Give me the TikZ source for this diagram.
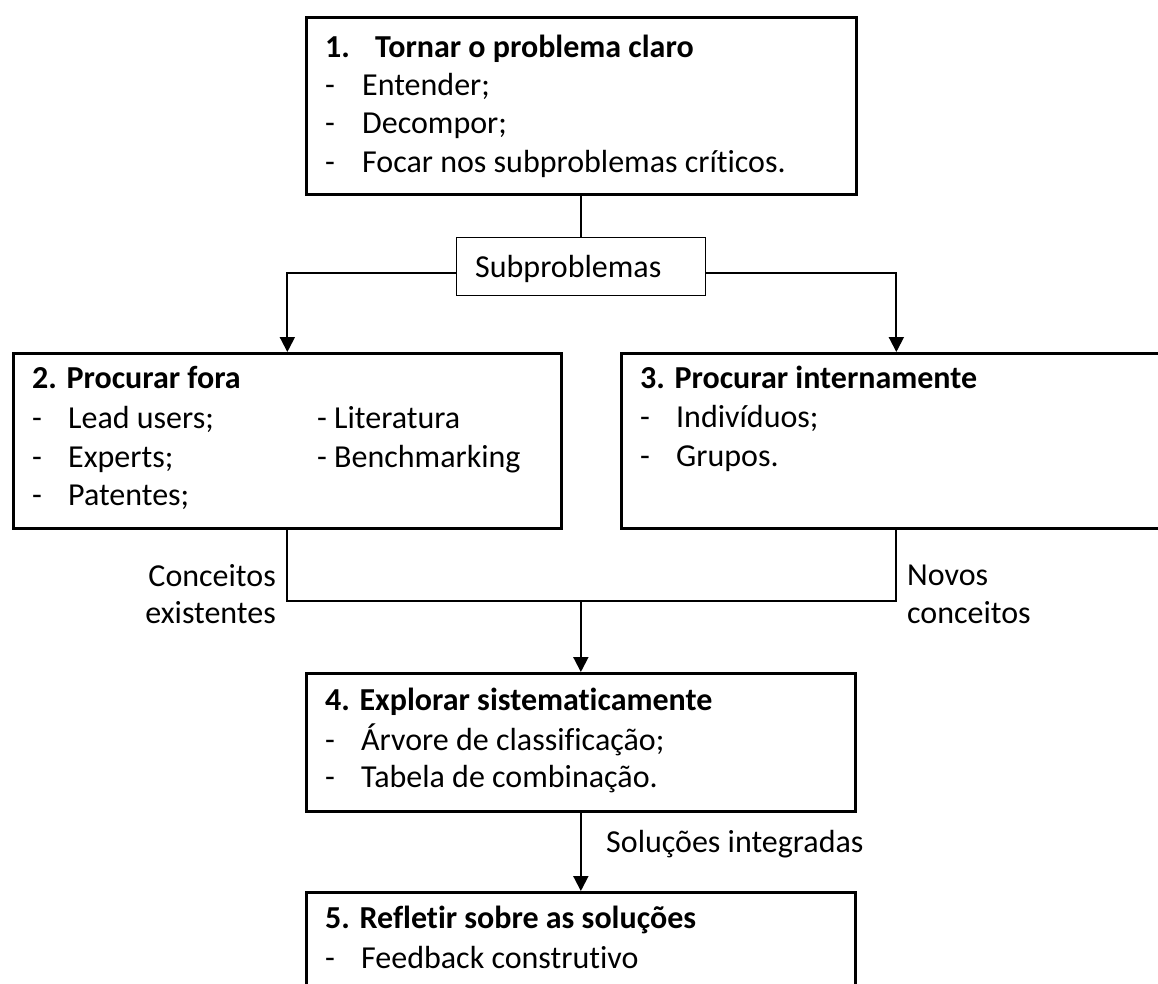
\documentclass[tikz,border=0pt]{standalone}
\usepackage{fontspec}
\setmainfont{Carlito}[Ligatures=NoCommon]
\usetikzlibrary{arrows.meta,calc}
\newcommand\itm{\makebox[37pt][l]{-}}
\begin{document}
\begin{tikzpicture}[x=1pt,y=-1pt,
  box/.style={draw, line width=2.7pt, rectangle, inner sep=0pt, anchor=north west},
  sbox/.style={draw, line width=1.3pt, rectangle, inner sep=0pt, anchor=north west},
  conn/.style={line width=2pt},
  arr/.style={line width=2pt, -{Triangle[length=15pt,width=15pt]}},
  txt/.style={anchor=base west, inner sep=0pt, font=\fontsize{32}{38}\selectfont},
  ttl/.style={anchor=base west, inner sep=0pt, font=\fontsize{32}{38}\selectfont\bfseries},
]
\useasboundingbox (0,0) rectangle (1158,983);
\clip (0,0) rectangle (1158,983);

% boxes
\node[box, minimum width=550, minimum height=177] (b1) at (305,16) {};
\node[sbox, minimum width=249, minimum height=58] (sub) at (456,237) {};
\node[box, minimum width=548, minimum height=175] (b2) at (12,352) {};
\node[box, minimum width=550, minimum height=175] (b3) at (620,352) {};
\node[box, minimum width=549, minimum height=138] (b4) at (305,672) {};
\node[box, minimum width=549, minimum height=140] (b5) at (305,891) {};

% texts box 1
\node[ttl] (t1) at (325,57) {\makebox[50pt][l]{1.}Tornar o problema claro};
\node[txt] (t1a) at (325,95) {\itm Entender;};
\node[txt] (t1b) at (325,133) {\itm Decompor;};
\node[txt] (t1c) at (325,172) {\itm Focar nos subproblemas críticos.};

\node[txt] (ts) at (475,277) {Subproblemas};

% box 2
\node[ttl] (t2) at (32,388) {2. Procurar fora};
\node[txt] (t2a) at (32,428) {\makebox[36pt][l]{-}Lead users;};
\node[txt] (t2b) at (32,467) {\makebox[36pt][l]{-}Experts;};
\node[txt] (t2c) at (32,505) {\makebox[36pt][l]{-}Patentes;};
\node[txt] (t2d) at (317,428) {- Literatura};
\node[txt] (t2e) at (317,467) {- Benchmarking};

% box 3
\node[ttl] (t3) at (640,388) {3. Procurar internamente};
\node[txt] (t3a) at (640,427) {\makebox[36pt][l]{-}Indivíduos;};
\node[txt] (t3b) at (640,466) {\makebox[36pt][l]{-}Grupos.};

% box 4
\node[ttl] (t4) at (325,710) {4. Explorar sistematicamente};
\node[txt] (t4a) at (325,750) {\makebox[36pt][l]{-}Árvore de classificação;};
\node[txt] (t4b) at (325,787) {\makebox[36pt][l]{-}Tabela de combinação.};

% box 5
\node[ttl] (t5) at (325,928) {5. Refletir sobre as soluções};
\node[txt] (t5a) at (325,968) {\makebox[36pt][l]{-}Feedback construtivo};

% labels
\node[txt, anchor=base east] (lc1) at (276,586) {Conceitos};
\node[txt, anchor=base east] (lc2) at (276,623) {existentes};
\node[txt] (ln1) at (907,585) {Novos};
\node[txt] (ln2) at (907,623) {conceitos};
\node[txt] (ls) at (606,852) {Soluções integradas};

% connectors
\draw[conn] (sub.north) -- (sub.north |- b1.south);
\coordinate (sl) at ($(sub.west)+(0,6)$);
\coordinate (sr) at ($(sub.east)+(0,6)$);
\draw[arr] (sl) -| (b2.north);
\draw[arr] (sr) -| (b3.north);
\coordinate (jn) at ($(b2.south)+(0,71)$);
\draw[conn] (b2.south) |- (b3.south |- jn) -- (b3.south);
\draw[arr] (b4.north |- jn) -- (b4.north);
\draw[arr] (b4.south) -- (b5.north);
\end{tikzpicture}
\end{document}
